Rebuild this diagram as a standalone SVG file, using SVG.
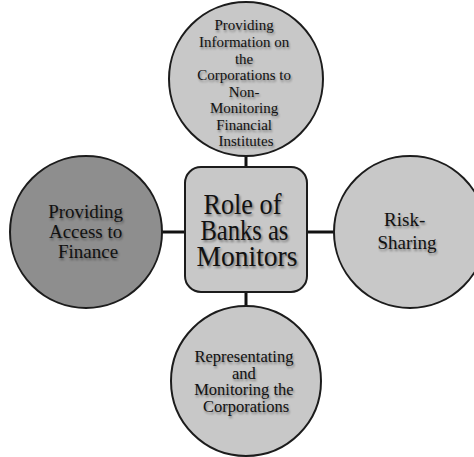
<svg xmlns="http://www.w3.org/2000/svg" xmlns:xlink="http://www.w3.org/1999/xlink" width="474" height="457" viewBox="0 0 474 457">
  <defs>
    <filter id="soft" x="-10%" y="-10%" width="130%" height="140%">
      <feGaussianBlur stdDeviation="0.9"/>
    </filter>
  </defs>
  <style>
    .node { fill: #c8c8c8; stroke: #1c1c1c; stroke-width: 2; }
    .dark { fill: #8e8e8e; }
    .link { stroke: #111; stroke-width: 3; fill: none; }
    .lbl { text-anchor: middle; font-family: "Liberation Serif", serif; }
    .ink { fill: #111; }
    .shadow { fill: #000; opacity: 0.4; filter: url(#soft); }
    .sm { font-size: 15px; }
    .bt { font-size: 16.5px; }
    .md { font-size: 19px; }
    .lg { font-size: 29px; }
  </style>
  <rect width="474" height="457" fill="#fff"/>

  <!-- connectors between the hub and the four circles -->
  <g id="connectors">
    <line class="link" x1="246" y1="156" x2="246" y2="168"/>
    <line class="link" x1="162" y1="232" x2="185" y2="232"/>
    <line class="link" x1="306" y1="232" x2="334" y2="232"/>
    <line class="link" x1="246" y1="291" x2="246" y2="306"/>
  </g>

  <g id="top">
    <circle class="node" cx="246" cy="79" r="77"/>
    <use xlink:href="#t-top" href="#t-top" class="shadow" x="1" y="1.5"/>
    <g class="ink">
      <text id="t-top" class="lbl sm">
        <tspan x="246" y="30">Providing</tspan>
        <tspan x="246" y="47">Information on</tspan>
        <tspan x="246" y="64">the</tspan>
        <tspan x="246" y="80">Corporations to</tspan>
        <tspan x="246" y="97">Non-</tspan>
        <tspan x="246" y="113">Monitoring</tspan>
        <tspan x="246" y="130">Financial</tspan>
        <tspan x="246" y="146">Institutes</tspan>
      </text>
    </g>
  </g>

  <g id="left">
    <circle class="node dark" cx="86" cy="232" r="76"/>
    <use xlink:href="#t-left" href="#t-left" class="shadow" x="1" y="1.5"/>
    <g class="ink">
      <text id="t-left" class="lbl md">
        <tspan x="88" y="218">Providing</tspan>
        <tspan x="88" y="238">Access to</tspan>
        <tspan x="88" y="258">Finance</tspan>
      </text>
    </g>
  </g>

  <g id="hub">
    <rect class="node" x="185" y="167" width="122" height="125" rx="16"/>
    <use xlink:href="#t-hub" href="#t-hub" class="shadow" x="1.5" y="2"/>
    <g class="ink">
      <text id="t-hub" class="lbl lg">
        <tspan x="246" y="214" textLength="78" lengthAdjust="spacingAndGlyphs">Role of</tspan>
        <tspan x="248" y="240" textLength="88" lengthAdjust="spacingAndGlyphs">Banks as</tspan>
        <tspan x="247" y="266" textLength="101" lengthAdjust="spacingAndGlyphs">Monitors</tspan>
      </text>
    </g>
  </g>

  <g id="right">
    <circle class="node" cx="410" cy="232" r="76"/>
    <use xlink:href="#t-right" href="#t-right" class="shadow" x="1" y="1.5"/>
    <g class="ink">
      <text id="t-right" class="lbl md">
        <tspan x="407" y="226">Risk-</tspan>
        <tspan x="407" y="249">Sharing</tspan>
      </text>
    </g>
  </g>

  <g id="bottom">
    <circle class="node" cx="246" cy="381" r="75"/>
    <use xlink:href="#t-bottom" href="#t-bottom" class="shadow" x="1" y="1.5"/>
    <g class="ink">
      <text id="t-bottom" class="lbl bt">
        <tspan x="246" y="362">Representating</tspan>
        <tspan x="246" y="379">and</tspan>
        <tspan x="246" y="395">Monitoring the</tspan>
        <tspan x="246" y="412">Corporations</tspan>
      </text>
    </g>
  </g>
</svg>
